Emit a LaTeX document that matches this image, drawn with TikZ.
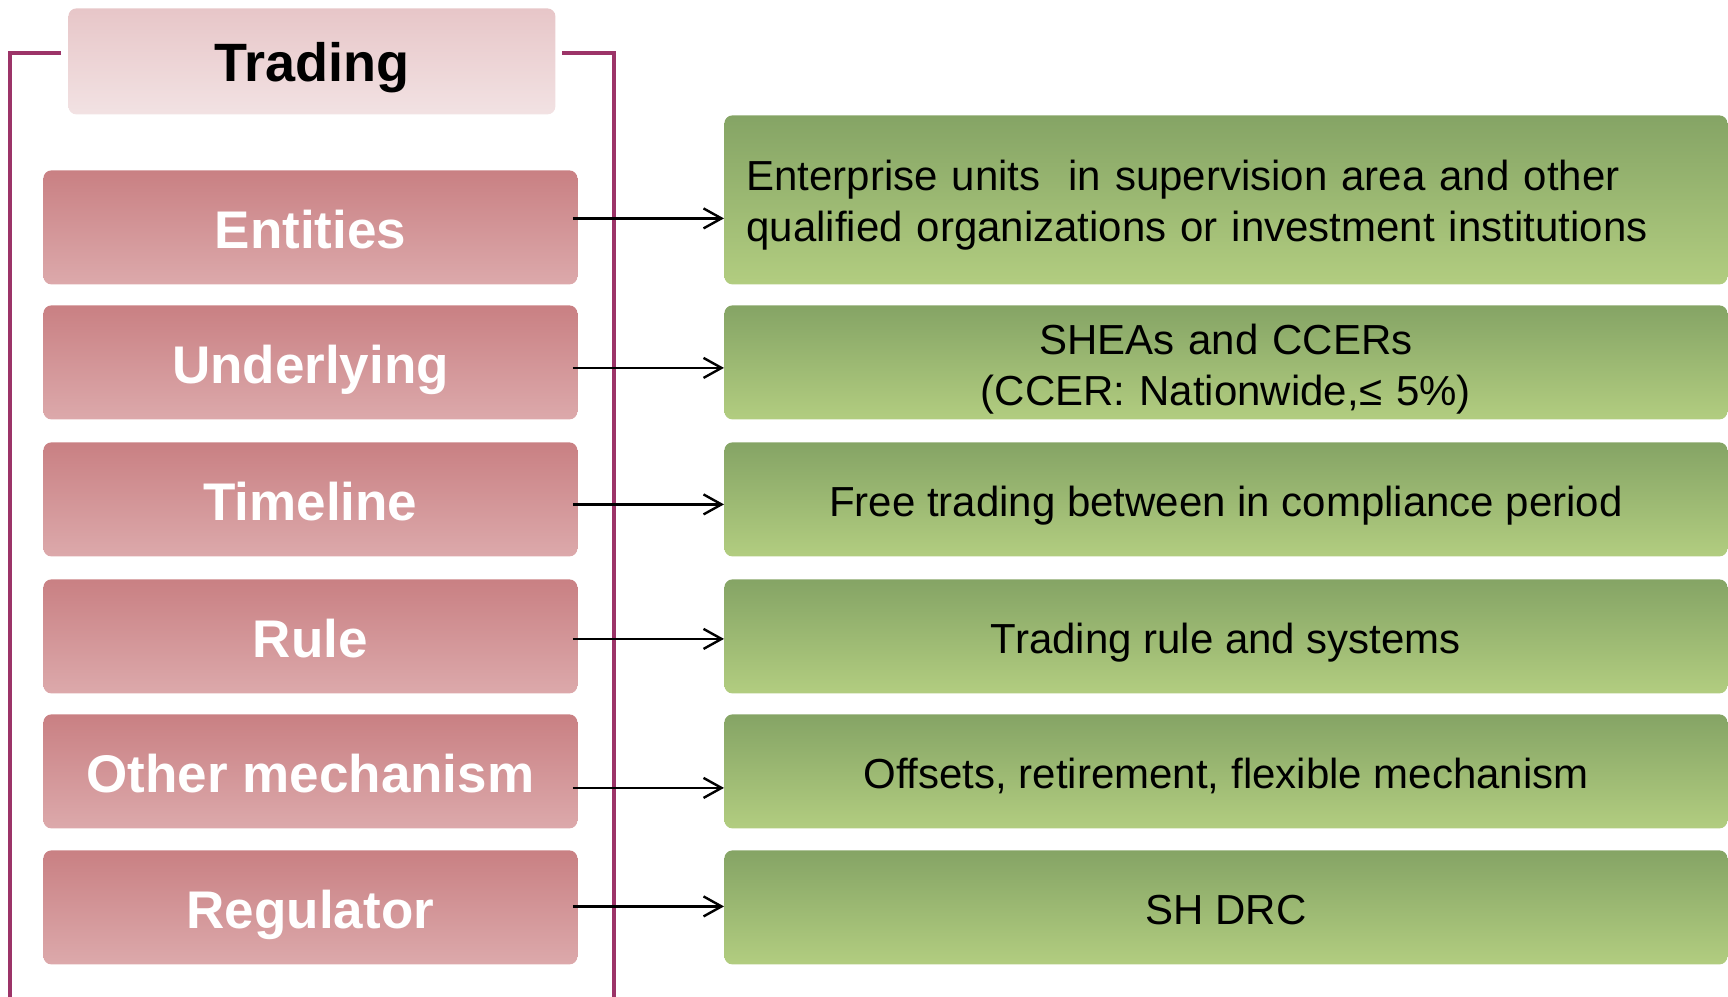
\documentclass[tikz,border=0pt]{standalone}
\usepackage{fontspec}
\setmainfont{Liberation Sans}
\usetikzlibrary{arrows.meta}
\definecolor{pinkT}{HTML}{C98083}
\definecolor{pinkB}{HTML}{DCA9AB}
\definecolor{headT}{HTML}{E7C6C8}
\definecolor{headB}{HTML}{F2E2E3}
\definecolor{greenT}{HTML}{85A465}
\definecolor{greenB}{HTML}{B2CD80}
\definecolor{frameC}{HTML}{9C3468}
\begin{document}
\begin{tikzpicture}[x=0.5pt,y=-0.5pt,
  headbox/.style={rounded corners=4pt, top color=headT, bottom color=headB, minimum width=243.5pt, minimum height=53pt, inner sep=0pt, anchor=north west, text=black, text height=24pt, text depth=4pt, font=\fontsize{27}{31}\selectfont\bfseries},
  pinkbox/.style={rounded corners=4pt, top color=pinkT, bottom color=pinkB, minimum width=267pt, minimum height=57pt, inner sep=0pt, anchor=north west, text=white, text height=25pt, text depth=3.5pt, font=\fontsize{26.5}{30}\selectfont\bfseries},
  greenbox/.style={rounded corners=4pt, top color=greenT, bottom color=greenB, minimum width=501.5pt, minimum height=57pt, inner sep=0pt, anchor=north west, text=black, text height=20.5pt, text depth=3pt, font=\fontsize{21}{25.5}\selectfont},
  greentext/.style={inner sep=0pt, text width=479.5pt, text=black, font=\fontsize{21}{25.5}\selectfont},
  arr/.style={line width=1.2pt, draw=black, -{Straight Barb[length=9pt,width=10pt]}},
  framepath/.style={line width=2pt, draw=frameC}]
\useasboundingbox (0,0) rectangle (1728,996);

% frame
\coordinate (fl1) at (61,53);
\coordinate (fl2) at (10,53);
\coordinate (fl3) at (10,1000);
\coordinate (fr1) at (562,53);
\coordinate (fr2) at (614,53);
\coordinate (fr3) at (614,1000);
\draw[framepath] (fl1) -- (fl2) -- (fl3);
\draw[framepath] (fr1) -- (fr2) -- (fr3);

% header
\node[headbox] (t) at (68,8) {Trading};

% left boxes
\node[pinkbox] (p1) at (43,170) {Entities};
\node[pinkbox] (p2) at (43,305) {Underlying};
\node[pinkbox] (p3) at (43,442) {Timeline};
\node[pinkbox] (p4) at (43,579) {Rule};
\node[pinkbox] (p5) at (43,714) {Other mechanism};
\node[pinkbox] (p6) at (43,850) {Regulator};

% right boxes
\node[greenbox, minimum height=84.5pt] (g1) at (724,115) {};
\node[greentext, align=left] (g1t) at ([yshift=-2.75pt]g1.center) {Enterprise units\ \ in supervision area and other\\qualified organizations or investment institutions};
\node[greenbox] (g2) at (724,305) {};
\node[greentext, align=center] (g2t) at ([yshift=-3.3pt]g2.center) {SHEAs and CCERs\\(CCER: Nationwide,≤ 5\%)};
\node[greenbox] (g3) at (724,442) {Free trading between in compliance period};
\node[greenbox] (g4) at (724,579) {Trading rule and systems};
\node[greenbox] (g5) at (724,714) {Offsets, retirement, flexible mechanism};
\node[greenbox] (g6) at (724,850) {SH DRC};

% arrows
\coordinate (a1) at ([xshift=-2.5pt,yshift=4.5pt]p1.east);
\coordinate (a2) at ([xshift=-2.5pt,yshift=-2.75pt]p2.east);
\coordinate (a3) at ([xshift=-2.5pt,yshift=-2.5pt]p3.east);
\coordinate (a4) at ([xshift=-2.5pt,yshift=-1.25pt]p4.east);
\coordinate (a5) at ([xshift=-2.5pt,yshift=-8.25pt]p5.east);
\coordinate (a6) at ([xshift=-2.5pt,yshift=0.5pt]p6.east);
\draw[arr] (a1) -- (a1 -| g1.west);
\draw[arr] (a2) -- (a2 -| g2.west);
\draw[arr] (a3) -- (a3 -| g3.west);
\draw[arr] (a4) -- (a4 -| g4.west);
\draw[arr] (a5) -- (a5 -| g5.west);
\draw[arr] (a6) -- (a6 -| g6.west);
\end{tikzpicture}
\end{document}
